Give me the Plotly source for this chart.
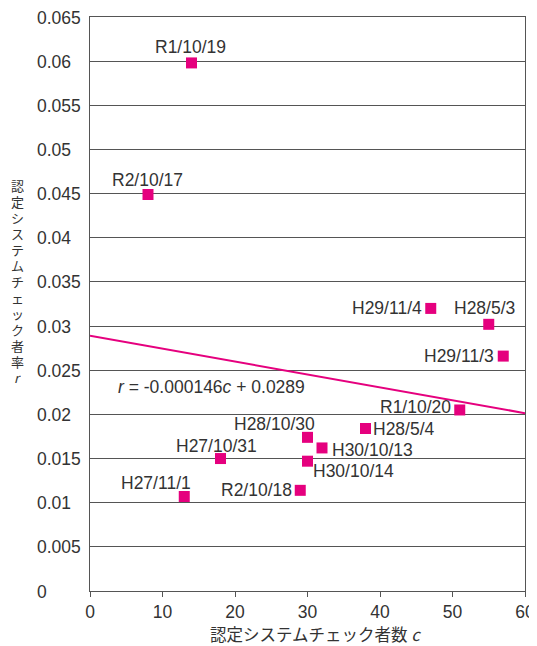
import plotly.graph_objects as go

# data
labels = ["R1/10/19", "R2/10/17", "H29/11/4", "H28/5/3", "H29/11/3", "R1/10/20",
          "H28/5/4", "H28/10/30", "H30/10/13", "H30/10/14", "H27/10/31",
          "H27/11/1", "R2/10/18"]
c_vals = [14, 8, 47, 55, 57, 51, 38, 30, 32, 30, 18, 13, 29]
r_vals = [0.0598, 0.0449, 0.0320, 0.0302, 0.0266, 0.0205, 0.0184, 0.0174,
          0.0162, 0.0147, 0.0150, 0.0107, 0.0114]
slope = -0.000146
intercept = 0.0289
x_ticks = [0, 10, 20, 30, 40, 50, 60]
y_ticks = [0, 0.005, 0.01, 0.015, 0.02, 0.025, 0.03, 0.035, 0.04, 0.045,
           0.05, 0.055, 0.06, 0.065]
y_tick_text = ["0", "0.005", "0.01", "0.015", "0.02", "0.025", "0.03", "0.035",
               "0.04", "0.045", "0.05", "0.055", "0.06", "0.065"]
y_title_chars = list("認定システムチェック者率") + ["<i>r</i>"]
x_title = "認定システムチェック者数 <i>c</i>"
equation = "<i>r</i> = -0.000146<i>c</i> + 0.0289"

# label placement styles: (xanchor, yanchor, xshift, yshift)
label_pos = [
    ("center", "bottom", -1, 4),
    ("center", "bottom", -1, 3),
    ("right", "middle", -7, 0),
    ("center", "bottom", -4, 4),
    ("right", "middle", -7, 0),
    ("right", "middle", -7, 3),
    ("left", "middle", 5, 0),
    ("right", "bottom", 9, 1),
    ("left", "middle", 8, -2),
    ("left", "middle", 3, -10),
    ("center", "bottom", -4, 1),
    ("right", "bottom", 9, 2),
    ("right", "middle", -6, 0),
]

PINK = "#E5007E"
LAT = "Liberation Sans"
CJK = "Noto Sans CJK JP"
TXT = "#333333"
GRID = "#555555"

OFF = 8  # page body margin
W, H = 537 - OFF, 646 - OFF
ml, mr, mt = 90 - OFF, 12, 17 - OFF
mb = H - (591 - OFF)
pw, ph = W - ml - mr, H - mt - mb


def px_x(p):
    return (p - OFF - ml) / pw


def px_y(p):
    return (H - mb - (p - OFF)) / ph


fig = go.Figure()
fig.add_trace(go.Scatter(
    x=[x_ticks[0], x_ticks[-1]],
    y=[intercept + slope * x_ticks[0], intercept + slope * x_ticks[-1]],
    mode="lines", line=dict(color=PINK, width=2), hoverinfo="skip",
    showlegend=False))
fig.add_trace(go.Scatter(
    x=c_vals, y=r_vals, mode="markers",
    marker=dict(symbol="square", size=11, color=PINK),
    showlegend=False))

for lab, cx, ry, (xa, ya, xs, ys) in zip(labels, c_vals, r_vals, label_pos):
    fig.add_annotation(x=cx, y=ry, text=lab, showarrow=False, xanchor=xa,
                       yanchor=ya, xshift=xs, yshift=ys,
                       font=dict(family=LAT, size=17.5, color=TXT))

fig.add_annotation(x=px_x(116), xref="paper", y=px_y(387), yref="paper",
                   xanchor="left", yanchor="middle", text=equation,
                   showarrow=False, font=dict(family=LAT, size=17.5, color=TXT))

# y tick labels (left aligned)
for tv, tt in zip(y_ticks, y_tick_text):
    fig.add_annotation(x=px_x(36), xref="paper", y=tv, yref="y", text=tt,
                       showarrow=False, xanchor="left", yanchor="middle",
                       height=17, borderpad=0,
                       font=dict(family=LAT, size=17.5, color=TXT))

# vertical (stacked) y title
for i, ch in enumerate(y_title_chars):
    fig.add_annotation(x=px_x(17), xref="paper", y=px_y(185 + 16 * i),
                       yref="paper", text=ch, showarrow=False,
                       xanchor="center", yanchor="middle", height=15,
                       borderpad=0,
                       font=dict(family=CJK, size=13, color=TXT))

fig.add_annotation(x=px_x(315), xref="paper", y=px_y(634), yref="paper",
                   text=x_title, showarrow=False, xanchor="center",
                   yanchor="middle", borderpad=0,
                   font=dict(family=CJK, size=16.5, color=TXT))

fig.update_layout(
    width=W, height=H,
    margin=dict(l=ml, r=mr, t=mt, b=mb, autoexpand=False),
    paper_bgcolor="white", plot_bgcolor="white",
    font=dict(family=LAT, color=TXT),
    xaxis=dict(range=[0, 60], tickvals=x_ticks, automargin=False,
               ticks="outside", ticklen=5, tickcolor=GRID, showline=True,
               linecolor=GRID, linewidth=1, mirror=True, showgrid=False,
               zeroline=False, tickfont=dict(family=LAT, size=17.5, color=TXT)),
    yaxis=dict(range=[0, 0.065], tickvals=y_ticks, showticklabels=False,
               automargin=False, showgrid=True, gridcolor=GRID, gridwidth=1,
               showline=True, linecolor=GRID, mirror=True, zeroline=False,
               ticks=""),
)

fig.write_html("out.html")
